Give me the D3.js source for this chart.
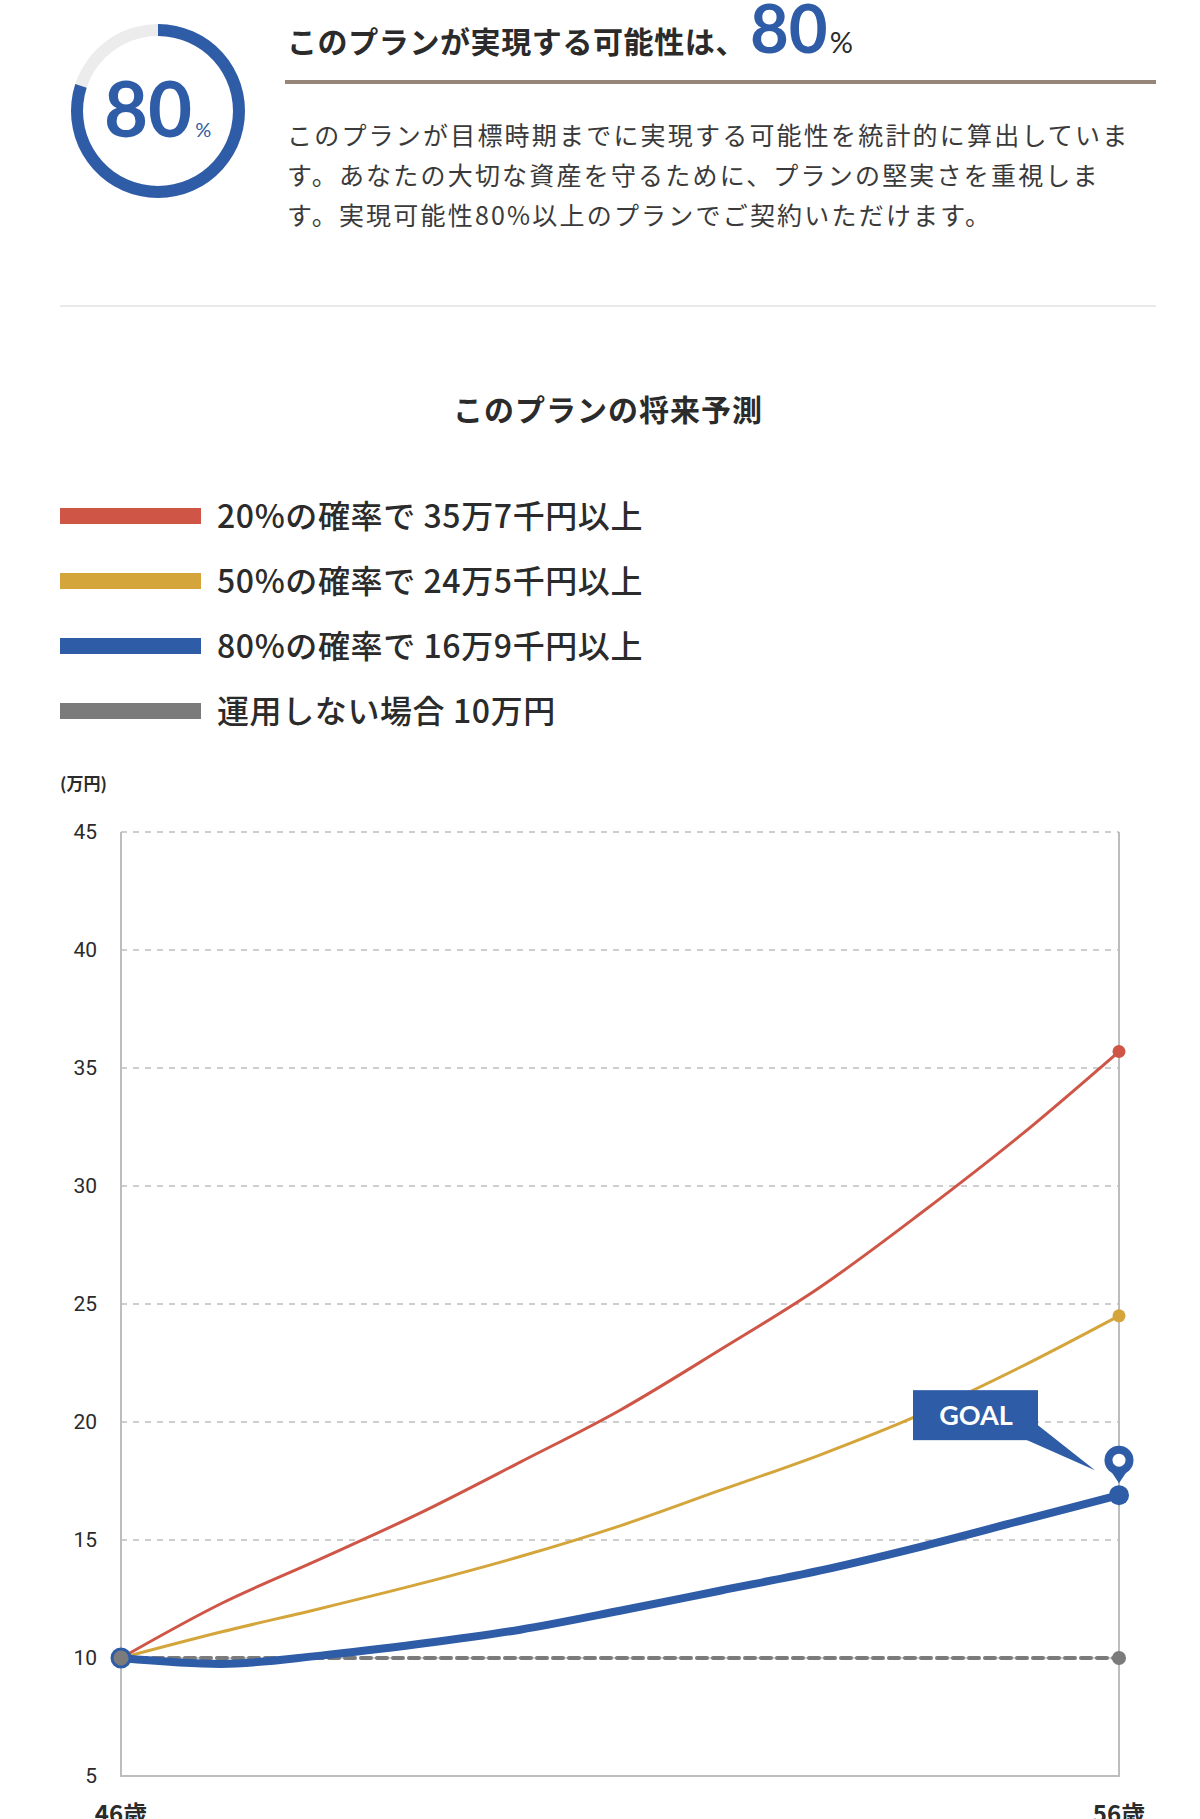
<!DOCTYPE html>
<html>
<head>
<meta charset="utf-8">
<script src="https://cdn.jsdelivr.net/npm/d3@7"></script>
<style>
  body { margin: 0; background: #fff; }
  text { font-family: "Noto Sans CJK JP", "Noto Sans", sans-serif; }
</style>
</head>
<body>
<div id="container"></div>
<script>

// values (万円)
const ages = [46, 47, 48, 49, 50, 51, 52, 53, 54, 55, 56];
const upper20 = [10, 12.3, 14.2, 16.15, 18.3, 20.5, 23.05, 25.7, 28.8, 32.1, 35.7];
const median50 = [10, 11.1, 12.1, 13.15, 14.3, 15.6, 17.1, 18.6, 20.3, 22.3, 24.5];
const lower80 = [10, 9.75, 10.1, 10.6, 11.2, 12.0, 12.85, 13.7, 14.7, 15.8, 16.9];
const noInvest = [10, 10, 10, 10, 10, 10, 10, 10, 10, 10, 10];

const yTicks = [5, 10, 15, 20, 25, 30, 35, 40, 45];
const xTickLabels = ["46歳", "56歳"];

const legendLabels = [
    "20%の確率で 35万7千円以上",
    "50%の確率で 24万5千円以上",
    "80%の確率で 16万9千円以上",
    "運用しない場合 10万円"
];

const probability = 80;

const paragraphLines = [
    "このプランが目標時期までに実現する可能性を統計的に算出していま",
    "す。あなたの大切な資産を守るために、プランの堅実さを重視しま",
    "す。実現可能性80%以上のプランでご契約いただけます。"
];

function main() {

    const blue = "#2f5ca6";
    const colors = ["#cf5647", "#d4a53a", blue, "#7b7b7b"];

    const svg = d3.select("#container")
        .append("svg")
        .attr("width", 1200)
        .attr("height", 1819)
        .style("display", "block");

    // --- header: ring gauge
    const ring = svg.append("g").attr("transform", "translate(158,111)");
    const arc = d3.arc().innerRadius(75).outerRadius(87);
    ring.append("path")
        .attr("d", arc({startAngle: 0, endAngle: 2 * Math.PI}))
        .attr("fill", "#ececec");
    ring.append("path")
        .attr("d", arc({startAngle: 0, endAngle: 2 * Math.PI * probability / 100}))
        .attr("fill", blue);
    const ringText = ring.append("text")
        .attr("x", -54)
        .attr("y", 26)
        .attr("fill", blue)
        .style("font-family", "Lato, sans-serif")
        .style("font-weight", 700);
    ringText.append("tspan")
        .style("font-size", "76px")
        .text(probability);
    ringText.append("tspan")
        .attr("dx", 3)
        .style("font-size", "20px")
        .style("font-weight", 400)
        .text("%");

    // --- header: title
    const title = svg.append("text")
        .attr("x", 287)
        .attr("y", 53)
        .attr("fill", "#2b2b2b");
    title.append("tspan")
        .style("font-size", "30px")
        .style("font-weight", 700)
        .style("letter-spacing", "0.6px")
        .text("このプランが実現する可能性は、");
    title.append("tspan")
        .attr("dx", 4)
        .attr("fill", blue)
        .style("font-family", "Lato, sans-serif")
        .style("font-weight", 700)
        .style("font-size", "67px")
        .text(probability);
    title.append("tspan")
        .attr("dx", 2)
        .style("font-family", "Lato, sans-serif")
        .style("font-size", "29px")
        .text("%");

    svg.append("line")
        .attr("x1", 285).attr("x2", 1156)
        .attr("y1", 82).attr("y2", 82)
        .attr("stroke", "#968679")
        .attr("stroke-width", 4);

    svg.selectAll(".para")
        .data(paragraphLines)
        .enter()
        .append("text")
        .attr("class", "para")
        .attr("x", 287)
        .attr("y", (d, i) => 145 + i * 40)
        .attr("fill", "#3a3a3a")
        .style("font-size", "25px")
        .style("letter-spacing", "2.2px")
        .text(d => d);

    svg.append("line")
        .attr("x1", 60).attr("x2", 1156)
        .attr("y1", 306).attr("y2", 306)
        .attr("stroke", "#e2e2e2")
        .attr("stroke-width", 1.5);

    // --- chart title
    svg.append("text")
        .attr("x", 608)
        .attr("y", 421)
        .attr("text-anchor", "middle")
        .attr("fill", "#2b2b2b")
        .style("font-size", "30px")
        .style("font-weight", 700)
        .style("letter-spacing", "1px")
        .text("このプランの将来予測");

    // --- legend
    const legend = svg.selectAll(".legend")
        .data(legendLabels)
        .enter()
        .append("g")
        .attr("class", "legend")
        .attr("transform", (d, i) => `translate(60,${516 + i * 65})`);
    legend.append("rect")
        .attr("y", -8)
        .attr("width", 141)
        .attr("height", 16)
        .attr("fill", (d, i) => colors[i]);
    legend.append("text")
        .attr("x", 157)
        .attr("dy", "0.37em")
        .attr("fill", "#2b2b2b")
        .style("font-size", "32px")
        .style("font-weight", 500)
        .style("letter-spacing", "0.6px")
        .text(d => d);

    // --- chart
    const xScale = d3.scaleLinear()
        .domain([46, 56])
        .range([121, 1119]);
    const yScale = d3.scaleLinear()
        .domain([5, 45])
        .range([1776, 832]);

    svg.append("text")
        .attr("x", 60)
        .attr("y", 790)
        .attr("fill", "#2b2b2b")
        .style("font-size", "17px")
        .style("font-weight", 700)
        .text("(万円)");

    const gridGroup = svg.append("g");
    gridGroup.selectAll("line")
        .data(yTicks.filter(t => t > 5))
        .enter()
        .append("line")
        .attr("x1", xScale(46)).attr("x2", xScale(56))
        .attr("y1", d => yScale(d)).attr("y2", d => yScale(d))
        .attr("stroke", "#bdbdbd")
        .attr("stroke-width", 1.5)
        .attr("stroke-dasharray", "6,6");

    // frame: left, right, bottom
    svg.append("path")
        .attr("d", `M${xScale(46)},${yScale(45)}V${yScale(5)}H${xScale(56)}V${yScale(45)}`)
        .attr("fill", "none")
        .attr("stroke", "#bdbdbd")
        .attr("stroke-width", 2);

    svg.append("g")
        .selectAll("text")
        .data(yTicks)
        .enter()
        .append("text")
        .attr("x", 97)
        .attr("y", d => yScale(d))
        .attr("dy", "0.35em")
        .attr("text-anchor", "end")
        .attr("fill", "#2b2b2b")
        .style("font-family", "'Liberation Sans Narrow', Roboto, sans-serif")
        .style("font-size", "21px")
        .text(d => d);

    svg.append("g")
        .selectAll("text")
        .data(xTickLabels)
        .enter()
        .append("text")
        .attr("x", (d, i) => xScale(i === 0 ? 46 : 56))
        .attr("y", 1823)
        .attr("text-anchor", "middle")
        .attr("fill", "#2b2b2b")
        .style("font-size", "24px")
        .style("font-weight", 700)
        .text(d => d);

    const line = d3.line()
        .x((d, i) => xScale(ages[i]))
        .y(d => yScale(d))
        .curve(d3.curveMonotoneX);

    const series = [
        {values: noInvest, color: colors[3], width: 4, dash: "10,6"},
        {values: upper20, color: colors[0], width: 3},
        {values: median50, color: colors[1], width: 3},
        {values: lower80, color: colors[2], width: 8}
    ];

    series.forEach(s => {
        svg.append("path")
            .datum(s.values)
            .attr("fill", "none")
            .attr("stroke", s.color)
            .attr("stroke-width", s.width)
            .attr("stroke-dasharray", s.dash || null)
            .attr("stroke-linecap", "round")
            .attr("d", line);
    });

    const last = ages.length - 1;
    // end markers
    [[upper20, colors[0], 6.5], [median50, colors[1], 6.5], [noInvest, colors[3], 7]].forEach(([vals, c, r]) => {
        svg.append("circle")
            .attr("cx", xScale(ages[last]))
            .attr("cy", yScale(vals[last]))
            .attr("r", r)
            .attr("fill", c);
    });
    svg.append("circle")
        .attr("cx", xScale(ages[last]))
        .attr("cy", yScale(lower80[last]))
        .attr("r", 10)
        .attr("fill", blue);

    // start marker
    svg.append("circle")
        .attr("cx", xScale(ages[0]))
        .attr("cy", yScale(lower80[0]))
        .attr("r", 9)
        .attr("fill", "#7b7b7b")
        .attr("stroke", blue)
        .attr("stroke-width", 3);

    // GOAL callout
    const gx = xScale(ages[last]);
    const gy = yScale(lower80[last]);
    const goal = svg.append("g").attr("transform", `translate(${gx},${gy})`);
    goal.append("path")
        .attr("d", "M-94,-56L-24,-25L-81,-70Z")
        .attr("fill", blue);
    goal.append("rect")
        .attr("x", -206)
        .attr("y", -105)
        .attr("width", 125)
        .attr("height", 50)
        .attr("fill", blue);
    goal.append("text")
        .attr("x", -143)
        .attr("y", -80)
        .attr("dy", "0.36em")
        .attr("text-anchor", "middle")
        .attr("fill", "#fff")
        .style("font-family", "Lato, sans-serif")
        .style("font-size", "27px")
        .style("font-weight", 700)
        .text("GOAL");
    goal.append("path")
        .attr("d", "M-8,-24L0,-12L8,-24Z")
        .attr("fill", blue);
    goal.append("circle")
        .attr("cy", -35)
        .attr("r", 14.5)
        .attr("fill", blue);
    goal.append("circle")
        .attr("cy", -35)
        .attr("r", 6.5)
        .attr("fill", "#fff");
}

main();
</script>
</body>
</html>
